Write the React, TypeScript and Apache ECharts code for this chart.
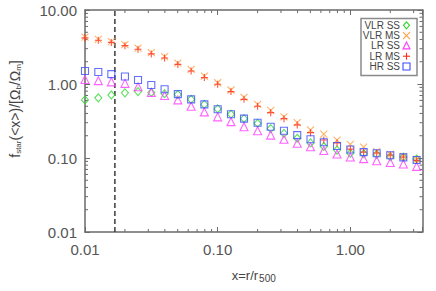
import React, { useEffect, useRef } from "react";
import * as echarts from "echarts";

// radial bins x = r / r500
const RADII = [
  0.01, 0.0126, 0.0158, 0.02, 0.0251, 0.0316, 0.0398, 0.0501, 0.0631, 0.0794,
  0.1, 0.126, 0.158, 0.2, 0.251, 0.316, 0.398, 0.501, 0.631, 0.794,
  1.0, 1.26, 1.58, 2.0, 2.51, 3.16,
];
const VLR_SS = [
  0.61, 0.65, 0.71, 0.76, 0.79, 0.77, 0.74, 0.72, 0.62, 0.53,
  0.46, 0.39, 0.34, 0.295, 0.25, 0.215, 0.185, 0.16, 0.143, 0.128,
  0.116, 0.114, 0.112, 0.104, 0.103, 0.097,
];
const VLR_MS = [
  4.3, 4.0, 3.75, 3.4, 3.05, 2.65, 2.35, 1.92, 1.58, 1.28,
  1.04, 0.83, 0.66, 0.53, 0.44, 0.36, 0.3, 0.24, 0.21, 0.175,
  0.153, 0.14, 0.122, 0.112, 0.105, 0.096,
];
const LR_SS = [
  1.15, 1.11, 1.07, 1.02, 0.92, 0.77, 0.7, 0.61, 0.5, 0.42,
  0.36, 0.31, 0.265, 0.234, 0.204, 0.179, 0.158, 0.142, 0.126, 0.113,
  0.103, 0.098, 0.092, 0.087, 0.083, 0.077,
];
const LR_MS = [
  4.2, 3.9, 3.65, 3.3, 2.95, 2.55, 2.25, 1.84, 1.5, 1.22,
  0.99, 0.79, 0.62, 0.5, 0.41, 0.34, 0.28, 0.22, 0.175, 0.16,
  0.132, 0.12, 0.117, 0.11, 0.103, 0.093,
];
const HR_SS = [
  1.5, 1.45, 1.36, 1.26, 1.13, 0.97, 0.85, 0.73, 0.62, 0.53,
  0.455, 0.39, 0.34, 0.3, 0.265, 0.234, 0.204, 0.179, 0.163, 0.145,
  0.13, 0.12, 0.116, 0.109, 0.102, 0.094,
];
const SERIES_NAMES = ["VLR SS", "VLR MS", "LR SS", "LR MS", "HR SS"];
const DASH_X = 0.0168;
const X_MIN = 0.01;
const X_MAX = 3.5;
const Y_MIN = 0.01;
const Y_MAX = 10;
const X_MINOR = [
  0.02, 0.03, 0.04, 0.05, 0.06, 0.07, 0.08, 0.09,
  0.2, 0.3, 0.4, 0.5, 0.6, 0.7, 0.8, 0.9, 2, 3,
];
const Y_MINOR = [
  0.02, 0.03, 0.04, 0.05, 0.06, 0.07, 0.08, 0.09,
  0.2, 0.3, 0.4, 0.5, 0.6, 0.7, 0.8, 0.9,
  2, 3, 4, 5, 6, 7, 8, 9,
];

const FONT = "Liberation Sans";
const AXIS_COLOR = "#6a6a6a";
const COLORS = ["#30d830", "#ffa040", "#ff3cff", "#ff2a1a", "#3b4bff"];
const X_PATH = "path://M0,0L10,10M10,0L0,10";
const PLUS_PATH = "path://M5,0L5,10M0,5L10,5";

const isPow10 = (v: number) => {
  const l = Math.log10(v);
  return Math.abs(l - Math.round(l)) < 1e-6;
};

export default function App() {
  const ref = useRef<HTMLDivElement>(null);
  useEffect(() => {
    const chart = echarts.init(ref.current!, null, { renderer: "svg" });
    const mk = (ys: number[]) => RADII.map((x, i) => [x, ys[i]]);
    const symbols: any[] = ["diamond", X_PATH, "triangle", PLUS_PATH, "rect"];
    const sizes: any[] = [[7, 8], 7, 8, 7, 7];
    const datasets = [VLR_SS, VLR_MS, LR_SS, LR_MS, HR_SS];

    const tickStyle = { stroke: AXIS_COLOR, lineWidth: 1 };
    const minorLen = 3;

    const scatter = datasets.map((d, i) => ({
      type: "scatter",
      name: SERIES_NAMES[i],
      data: mk(d),
      symbol: symbols[i],
      symbolSize: sizes[i],
      itemStyle: { color: "rgba(0,0,0,0)", borderColor: COLORS[i], borderWidth: 1.1 },
      emphasis: { disabled: true },
      z: 3 + i,
    }));

    const legendY0 = 25.3;
    const legendDy = 10.3;
    const sx = 406.5;
    const legendChildren: any[] = [
      {
        type: "rect",
        shape: { x: 361, y: 18.5, width: 56, height: 57 },
        style: { fill: "#fff", stroke: "#8a8a8a", lineWidth: 1.5 },
      },
    ];
    SERIES_NAMES.forEach((n, i) => {
      const cy = legendY0 + legendDy * i;
      legendChildren.push({
        type: "text",
        x: 400,
        y: cy,
        style: {
          text: n,
          align: "right",
          verticalAlign: "middle",
          fontSize: 10,
          fontFamily: FONT,
          lineHeight: 10,
          fill: "#444",
        },
      });
      const st = { fill: "none", stroke: COLORS[i], lineWidth: 1.1 };
      if (i === 0)
        legendChildren.push({
          type: "polygon",
          shape: { points: [[sx, cy - 3.5], [sx + 3, cy], [sx, cy + 3.5], [sx - 3, cy]] },
          style: st,
        });
      if (i === 1) {
        legendChildren.push({ type: "line", shape: { x1: sx - 3.5, y1: cy - 3.5, x2: sx + 3.5, y2: cy + 3.5 }, style: st });
        legendChildren.push({ type: "line", shape: { x1: sx + 3.5, y1: cy - 3.5, x2: sx - 3.5, y2: cy + 3.5 }, style: st });
      }
      if (i === 2)
        legendChildren.push({
          type: "polygon",
          shape: { points: [[sx, cy - 4], [sx + 3.5, cy + 3], [sx - 3.5, cy + 3]] },
          style: st,
        });
      if (i === 3) {
        legendChildren.push({ type: "line", shape: { x1: sx, y1: cy - 3.5, x2: sx, y2: cy + 3.5 }, style: st });
        legendChildren.push({ type: "line", shape: { x1: sx - 3.5, y1: cy, x2: sx + 3.5, y2: cy }, style: st });
      }
      if (i === 4)
        legendChildren.push({
          type: "rect",
          shape: { x: sx - 3.5, y: cy - 3.5, width: 7, height: 7 },
          style: st,
        });
    });

    const labelStyle = { color: "#555", fontSize: 15, fontFamily: FONT };

    const option: any = {
      animation: false,
      grid: { left: 83, right: 13.5, top: 10, bottom: 59 },
      xAxis: [
        {
          type: "log",
          logBase: 10,
          min: X_MIN,
          max: X_MAX,
          name: "x=r/r{s|500}",
          nameLocation: "middle",
          nameGap: 35,
          nameTextStyle: {
            color: "#444",
            fontSize: 13,
            fontFamily: FONT,
            rich: { s: { fontSize: 10, fontFamily: FONT, color: "#444", verticalAlign: "bottom", padding: [6, 0, 0, 1] } },
          },
          axisLine: { show: true, lineStyle: { color: AXIS_COLOR, width: 1.5 } },
          axisTick: { show: true, inside: true, length: 5, lineStyle: { color: AXIS_COLOR } },
          axisLabel: {
            ...labelStyle,
            margin: 10,
            formatter: (v: number) => (isPow10(v) ? v.toFixed(2) : ""),
          },
          splitLine: { show: false },
        },
        {
          type: "log",
          logBase: 10,
          min: X_MIN,
          max: X_MAX,
          position: "top",
          axisLine: { show: true, lineStyle: { color: AXIS_COLOR, width: 1.5 } },
          axisTick: { show: true, inside: true, length: 5, lineStyle: { color: AXIS_COLOR } },
          axisLabel: { show: false },
          splitLine: { show: false },
        },
      ],
      yAxis: [
        {
          type: "log",
          logBase: 10,
          min: Y_MIN,
          max: Y_MAX,
          name: "{g| }f{s|star}(<x>)/[Ω{s|b}/Ω{s|m}]",
          nameLocation: "middle",
          nameRotate: 90,
          nameGap: 63,
          nameTextStyle: {
            color: "#444",
            fontSize: 14,
            fontFamily: FONT,
            rich: {
              g: { width: 24, fontSize: 14 },
              s: { fontSize: 8, fontFamily: FONT, color: "#444", verticalAlign: "bottom", padding: [6, 0, 0, 0] },
            },
          },
          axisLine: { show: true, lineStyle: { color: AXIS_COLOR, width: 1.5 } },
          axisTick: { show: true, inside: true, length: 5, lineStyle: { color: AXIS_COLOR } },
          axisLabel: {
            ...labelStyle,
            margin: 8,
            formatter: (v: number) => (isPow10(v) ? v.toFixed(2) : ""),
          },
          splitLine: { show: false },
        },
        {
          type: "log",
          logBase: 10,
          min: Y_MIN,
          max: Y_MAX,
          position: "right",
          axisLine: { show: true, lineStyle: { color: AXIS_COLOR, width: 1.5 } },
          axisTick: { show: true, inside: true, length: 5, lineStyle: { color: AXIS_COLOR } },
          axisLabel: { show: false },
          splitLine: { show: false },
        },
      ],
      graphic: [{ type: "group", children: legendChildren, z: 100 }],
      series: [
        ...scatter,
        {
          type: "custom",
          silent: true,
          clip: false,
          z: 2,
          data: [[DASH_X, 1]],
          renderItem: (_p: any, api: any) => {
            const x = api.value(0);
            const b = api.coord([x, Y_MIN]);
            const t = api.coord([x, Y_MAX]);
            return {
              type: "line",
              shape: { x1: b[0], y1: b[1], x2: t[0], y2: t[1] },
              style: { stroke: "#3a3a3a", lineWidth: 1.5, lineDash: [5, 3] },
            };
          },
        },
        {
          type: "custom",
          silent: true,
          clip: false,
          data: X_MINOR.map((x) => [x, 1]),
          renderItem: (_p: any, api: any) => {
            const x = api.value(0);
            const b = api.coord([x, Y_MIN]);
            const t = api.coord([x, Y_MAX]);
            return {
              type: "group",
              children: [
                { type: "line", shape: { x1: b[0], y1: b[1], x2: b[0], y2: b[1] - minorLen }, style: tickStyle },
                { type: "line", shape: { x1: t[0], y1: t[1], x2: t[0], y2: t[1] + minorLen }, style: tickStyle },
              ],
            };
          },
        },
        {
          type: "custom",
          silent: true,
          clip: false,
          data: Y_MINOR.map((y) => [1, y]),
          renderItem: (_p: any, api: any) => {
            const y = api.value(1);
            const l = api.coord([X_MIN, y]);
            const r = api.coord([X_MAX, y]);
            return {
              type: "group",
              children: [
                { type: "line", shape: { x1: l[0], y1: l[1], x2: l[0] + minorLen, y2: l[1] }, style: tickStyle },
                { type: "line", shape: { x1: r[0], y1: r[1], x2: r[0] - minorLen, y2: r[1] }, style: tickStyle },
              ],
            };
          },
        },
      ],
    };
    chart.setOption(option);
    return () => chart.dispose();
  }, []);
  return (
    <div
      ref={ref}
      style={{ position: "fixed", left: 0, top: 0, width: 436, height: 291, background: "#fff" }}
    />
  );
}
